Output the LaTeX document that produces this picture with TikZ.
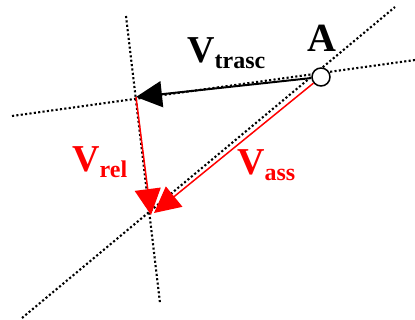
\documentclass[tikz,border=0pt]{standalone}
\usepackage{fontspec}
\setmainfont{Liberation Serif}
\usetikzlibrary{arrows.meta}

\newcommand{\vlab}[2]{{\fontsize{38}{38}\selectfont V}\raisebox{-6pt}{\fontsize{24}{24}\selectfont #2}}

\tikzset{
  guide/.style={line width=2.1pt, dash pattern=on 2.1pt off 2.3pt},
  vecblack/.style={line width=2pt, -{Triangle[length=26pt,width=26pt]}},
  vecred/.style={red, line width=1.5pt, -{Triangle[length=26pt,width=26pt]}},
  lab/.style={inner sep=0pt, anchor=base west, font=\bfseries}
}

\begin{document}
\begin{tikzpicture}[x=1pt,y=-1pt]
\useasboundingbox (0,0) rectangle (415,320);
% construction lines
\coordinate (g1a) at (22,318);
\coordinate (g1b) at (395,7);
\coordinate (g2a) at (12,116);
\coordinate (g2b) at (415,60);
\coordinate (g3a) at (126,16);
\coordinate (g3b) at (160,303);
\draw[guide] (g1a) -- (g1b);
\draw[guide] (g2a) -- (g2b);
\draw[guide] (g3a) -- (g3b);
% points
\coordinate (P) at (136,97);
\coordinate (Qr) at (151,215);
\coordinate (Qa) at (154,213);
\node[circle, draw, fill=white, line width=1.5pt, minimum size=18pt, inner sep=0pt] (A) at (321,77) {};
% vectors
\draw[vecblack] (A) -- (P);
\draw[vecred] (P) -- (Qr);
\draw[vecred] (A) -- (Qa);
% labels
\node[lab] (lA) at (307,52) {\fontsize{40}{40}\selectfont A};
\node[lab] (ltrasc) at (187,63) {\vlab{V}{trasc}};
\node[lab, text=red] (lrel) at (72,172) {\vlab{V}{rel}};
\node[lab, text=red] (lass) at (237,175) {\vlab{V}{ass}};
\end{tikzpicture}
\end{document}
